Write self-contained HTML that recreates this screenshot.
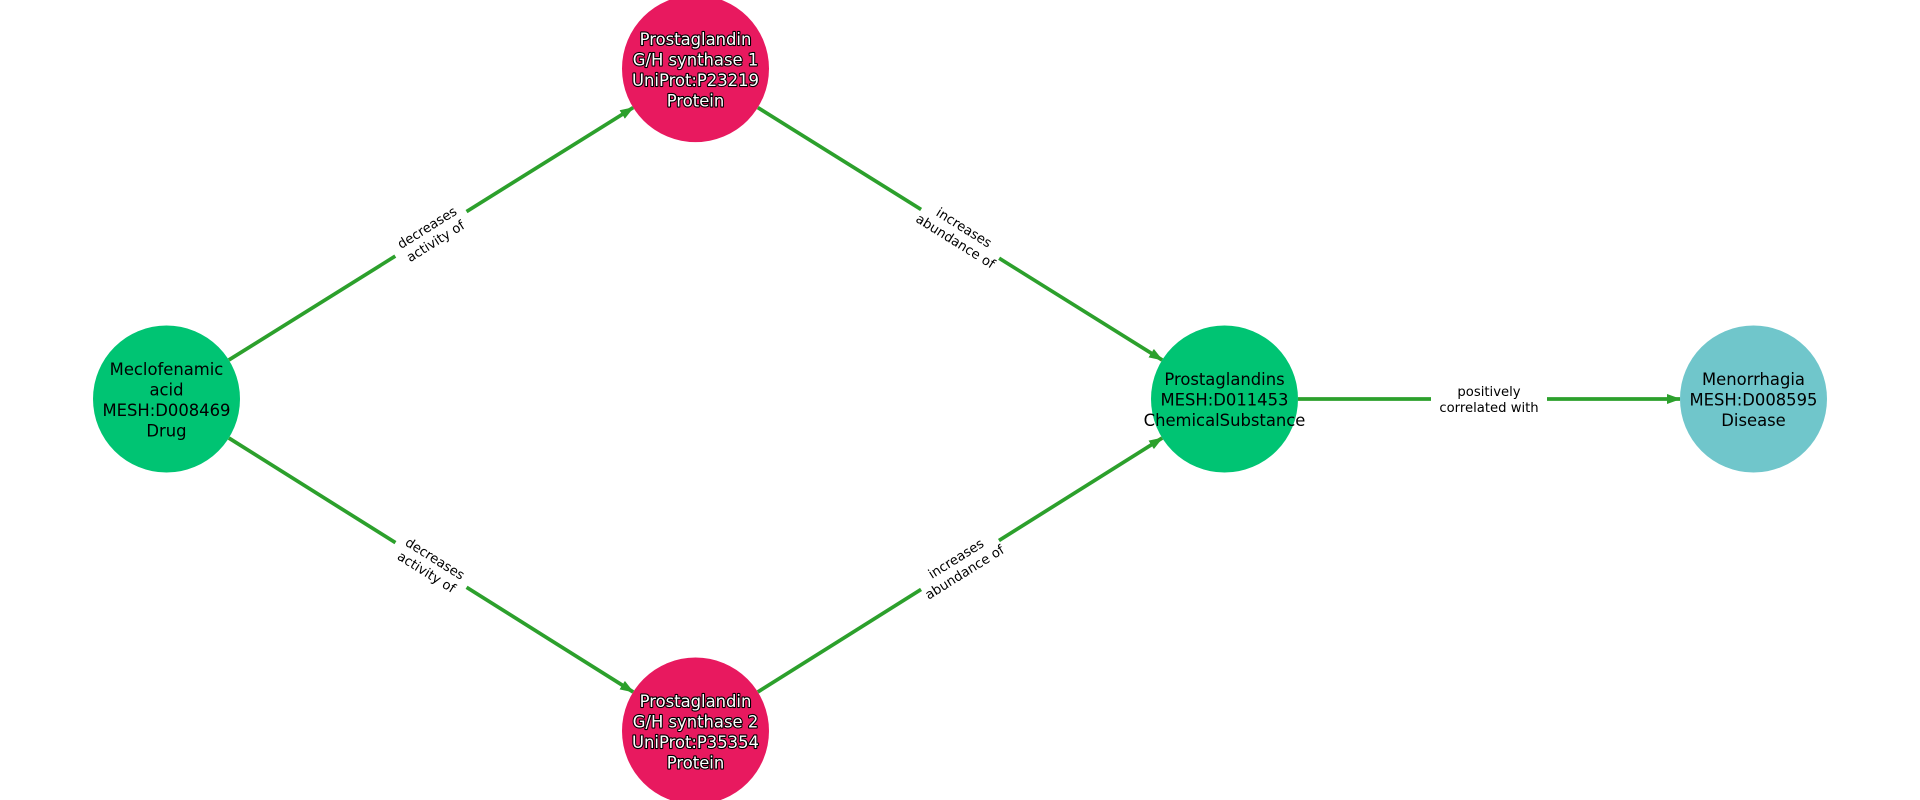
<!DOCTYPE html>
<html><head><meta charset="utf-8"><style>
html,body{margin:0;padding:0;background:#fff;}
svg{display:block;font-family:"DejaVu Sans","Liberation Sans",sans-serif;}
.n{font-size:16.4px;text-anchor:middle;fill:#000;}
.w{font-size:16.4px;text-anchor:middle;fill:#fff;stroke:#000;stroke-width:2.2px;paint-order:stroke;stroke-linejoin:round;}
.l{font-size:13.2px;text-anchor:middle;fill:#000;}
.e{stroke:#2ca02c;stroke-width:3.7;fill:none;}
</style></head><body>
<svg width="1920" height="800" viewBox="0 0 1920 800">
<defs><marker id="a" markerWidth="14" markerHeight="12" refX="13" refY="6" orient="auto" markerUnits="userSpaceOnUse"><path d="M0,1 L14,6 L0,11 Z" fill="#2ca02c"/></marker></defs>
<line class="e" x1="228.8" y1="360" x2="633.2" y2="107.6" marker-end="url(#a)"/>
<line class="e" x1="757.8" y1="107.6" x2="1162.2" y2="360" marker-end="url(#a)"/>
<line class="e" x1="228.8" y1="438" x2="633.2" y2="692" marker-end="url(#a)"/>
<line class="e" x1="757.8" y1="692" x2="1162.2" y2="438" marker-end="url(#a)"/>
<line class="e" x1="1298" y1="399" x2="1680" y2="399" marker-end="url(#a)"/>

<g transform="translate(431,234) rotate(-32)"><rect x="-42" y="-19" width="84" height="36" fill="#fff"/><text class="l" y="-3">decreases</text><text class="l" y="13">activity of</text></g>
<g transform="translate(960,234) rotate(32)"><rect x="-46" y="-19" width="92" height="36" fill="#fff"/><text class="l" y="-3">increases</text><text class="l" y="13">abundance of</text></g>
<g transform="translate(431,565) rotate(32)"><rect x="-42" y="-19" width="84" height="36" fill="#fff"/><text class="l" y="-3">decreases</text><text class="l" y="13">activity of</text></g>
<g transform="translate(960,565) rotate(-32)"><rect x="-46" y="-19" width="92" height="36" fill="#fff"/><text class="l" y="-3">increases</text><text class="l" y="13">abundance of</text></g>
<g transform="translate(1489,399)"><rect x="-58" y="-19" width="116" height="36" fill="#fff"/><text class="l" y="-3">positively</text><text class="l" y="13">correlated with</text></g>

<circle cx="166.5" cy="399" r="73.5" fill="#00c473"/>
<text class="n"><tspan x="166.5" y="375">Meclofenamic</tspan><tspan x="166.5" y="395.5">acid</tspan><tspan x="166.5" y="416">MESH:D008469</tspan><tspan x="166.5" y="436.5">Drug</tspan></text>

<circle cx="695.5" cy="68.6" r="73.5" fill="#e8195f"/>
<text class="w"><tspan x="695.5" y="45">Prostaglandin</tspan><tspan x="695.5" y="65.5">G/H synthase 1</tspan><tspan x="695.5" y="86">UniProt:P23219</tspan><tspan x="695.5" y="106.5">Protein</tspan></text>

<circle cx="695.5" cy="731" r="73.5" fill="#e8195f"/>
<text class="w"><tspan x="695.5" y="707">Prostaglandin</tspan><tspan x="695.5" y="727.5">G/H synthase 2</tspan><tspan x="695.5" y="748">UniProt:P35354</tspan><tspan x="695.5" y="768.5">Protein</tspan></text>

<circle cx="1224.5" cy="399" r="73.5" fill="#00c473"/>
<text class="n"><tspan x="1224.5" y="385">Prostaglandins</tspan><tspan x="1224.5" y="405.5">MESH:D011453</tspan><tspan x="1224.5" y="426">ChemicalSubstance</tspan></text>

<circle cx="1753.5" cy="399" r="73.5" fill="#70c6cb"/>
<text class="n"><tspan x="1753.5" y="385">Menorrhagia</tspan><tspan x="1753.5" y="405.5">MESH:D008595</tspan><tspan x="1753.5" y="426">Disease</tspan></text>
</svg>
</body></html>
